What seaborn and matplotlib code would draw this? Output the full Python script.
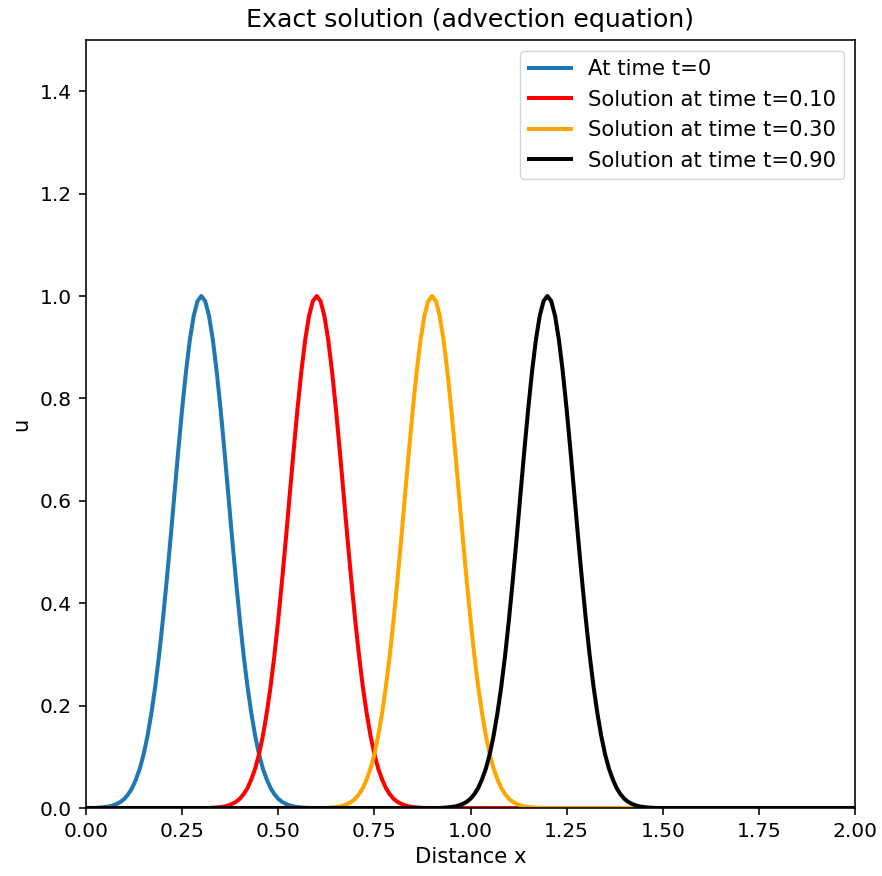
import numpy as np
import pandas as pd
import matplotlib
matplotlib.use("Agg")
import matplotlib.pyplot as plt
import seaborn as sns

# Pulse shape: u at offsets 0..0.30 from the peak (symmetric)
offsets_half = [0.00, 0.01, 0.02, 0.03, 0.04, 0.05, 0.06, 0.07, 0.08, 0.09, 0.10,
                0.11, 0.12, 0.13, 0.14, 0.15, 0.16, 0.17, 0.18, 0.19, 0.20,
                0.21, 0.22, 0.23, 0.24, 0.25, 0.26, 0.28, 0.30]
u_half = [1.000, 0.990, 0.961, 0.914, 0.852, 0.779, 0.698, 0.613, 0.527, 0.445, 0.368,
          0.298, 0.237, 0.185, 0.141, 0.105, 0.077, 0.056, 0.039, 0.027, 0.018,
          0.012, 0.008, 0.005, 0.003, 0.002, 0.001, 0.000, 0.000]

# Peak positions of each curve
centers = [0.30, 0.60, 0.90, 1.20]
labels = ["At time t=0", "Solution at time t=0.10",
          "Solution at time t=0.30", "Solution at time t=0.90"]
colors = ["#1f77b4", "red", "orange", "black"]

x_min, x_max = 0.0, 2.0

plt.rcParams.update({
    "font.size": 14.5,
    "axes.linewidth": 1.16,
    "xtick.major.width": 1.16,
    "ytick.major.width": 1.16,
    "xtick.major.size": 5.1,
    "ytick.major.size": 5.1,
    "xtick.major.pad": 5.0,
    "ytick.major.pad": 5.0,
})

fig = plt.figure(figsize=(8.82, 8.76), dpi=100)
ax = fig.add_axes([86 / 882, 1 - 808 / 876, (855 - 86) / 882, (808 - 40) / 876])

off = np.array(offsets_half)
uh = np.array(u_half)
for c, lab, col in zip(centers, labels, colors):
    xs = np.concatenate([[x_min], c - off[::-1][:-1], c + off, [x_max]])
    us = np.concatenate([[0.0], uh[::-1][:-1], uh, [0.0]])
    keep = (xs >= x_min) & (xs <= x_max)
    df = pd.DataFrame({"x": xs[keep], "u": us[keep]})
    sns.lineplot(data=df, x="x", y="u", ax=ax, color=col, label=lab,
                 linewidth=2.9, sort=True)

ax.set_xlim(0, 2)
ax.set_ylim(0, 1.5)
ax.set_xticks([0, 0.25, 0.5, 0.75, 1.0, 1.25, 1.5, 1.75, 2.0])
ax.set_xticklabels(["0.00", "0.25", "0.50", "0.75", "1.00", "1.25", "1.50", "1.75", "2.00"])
ax.set_yticks([0, 0.2, 0.4, 0.6, 0.8, 1.0, 1.2, 1.4])
ax.set_yticklabels(["0.0", "0.2", "0.4", "0.6", "0.8", "1.0", "1.2", "1.4"])
ax.tick_params(labelsize=14.5)
ax.set_xlabel("Distance x", fontsize=15.2, labelpad=4)
ax.set_ylabel("u", fontsize=15.2, labelpad=6)
ax.set_title("Exact solution (advection equation)", fontsize=18.2, pad=9)
ax.legend(loc="upper right", fontsize=15.2)

fig.savefig("out.png", dpi=100)
